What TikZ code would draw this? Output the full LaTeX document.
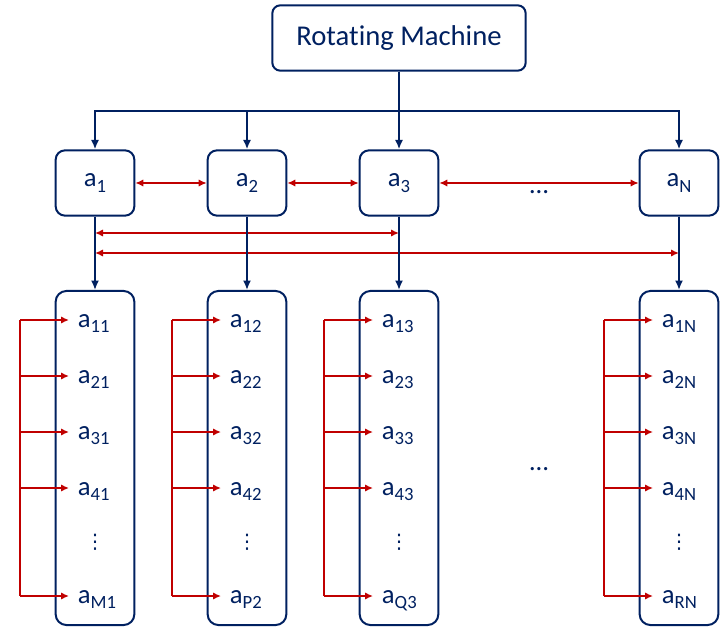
\documentclass[tikz,border=0pt]{standalone}
\usepackage{fontspec}
\setmainfont{Carlito}[Ligatures=NoCommon]
\newfontfamily\symfont{DejaVu Sans}
\usetikzlibrary{arrows.meta, positioning}

\definecolor{navy}{RGB}{0,32,96}
\definecolor{darkred}{RGB}{192,0,0}
\newcommand{\asub}[1]{a\raisebox{-4.3pt}{\fontsize{14}{16}\selectfont #1}}

\begin{document}
\begin{tikzpicture}[
  x=0.75pt, y=-0.75pt,
  font=\fontsize{20}{24}\selectfont, text=navy,
  >={Latex[length=6pt,width=5.5pt]},
  box/.style={draw=navy, line width=1.5pt, rounded corners=7pt, minimum width=59pt,
              minimum height=49pt, inner sep=0pt},
  col/.style={box, minimum height=250.5pt, rounded corners=8pt},
  item/.style={anchor=west, inner xsep=6.5pt, inner ysep=0pt, text height=10.5pt, text depth=0pt},
  vdot/.style={font=\symfont\fontsize{15}{18}\selectfont, inner sep=0pt},
  narr/.style={draw=navy, line width=1.5pt, -{Latex[length=7pt,width=6pt]}},
  rline/.style={draw=darkred, line width=1.1pt},
  rarr/.style={rline, ->},
  rboth/.style={rline, <->}
]
\useasboundingbox (0,0) rectangle (721,627);

\node[box, minimum width=190pt, rounded corners=6pt, font=\fontsize{21.5}{26}\selectfont]
  (machine) at (399,38) {Rotating Machine};

% first level
\foreach \n/\x in {1/95, 2/247, 3/399, N/679}
  \node[box] (a\n) at (\x,183) {\asub{\n}};
\foreach \n in {1,2,3,N}
  \draw[narr] (machine.south) -- ++(0,39) -| (a\n);

\draw[rboth] (a1) -- (a2);
\draw[rboth] (a2) -- (a3);
\draw[rboth] (a3) -- (aN);
\node[anchor=base] (gap) at (539,194) {\dots};

\coordinate (r1) at (0,233);
\coordinate (r2) at (0,253);
\draw[rboth] (a1 |- r1) -- (a3 |- r1);
\draw[rboth] (a1 |- r2) -- (aN |- r2);

% second level
\foreach \n/\x/\last in {1/95/M1, 2/247/P2, 3/399/Q3, N/679/RN} {
  \node[col] (c\n) at (\x,458) {};
  \draw[narr] (a\n) -- (c\n);
  \coordinate (br\n) at (\x-75,0);
  \foreach \r/\y in {1/320, 2/376, 3/432, 4/488}
    \node[item] (c\n-\r) at (\x-26,\y) {\asub{\r\n}};
  \node[item] (c\n-5) at (\x-26,596) {\asub{\last}};
  \node[vdot] (c\n-dots) at (\x,542) {⋮};
  \draw[rline] (br\n |- c\n-1) -- (br\n |- c\n-5);
  \foreach \r in {1,...,5}
    \draw[rarr] (br\n |- c\n-\r) -- (c\n-\r);
}
\node[anchor=base] (more) at (539,470) {\dots};
\end{tikzpicture}
\end{document}
